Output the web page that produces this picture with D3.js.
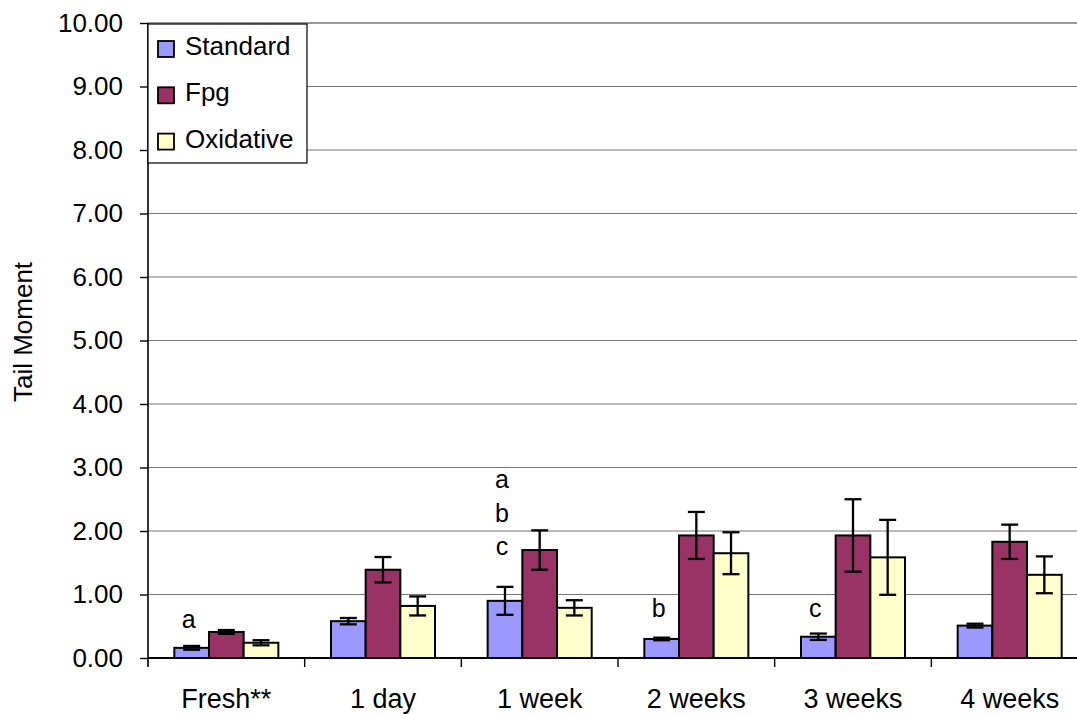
<!DOCTYPE html>
<html>
<head>
<meta charset="utf-8">
<script src="https://cdn.jsdelivr.net/npm/d3@7"></script>
<style>
  body { margin: 0; background: #fff; }
  text { font-family: "Liberation Sans", Arial, sans-serif; fill: #000; }
</style>
</head>
<body>
<div id="chart"></div>
<script>
// chart data
const categories = ["Fresh**", "1 day", "1 week", "2 weeks", "3 weeks", "4 weeks"];
const seriesNames = ["Standard", "Fpg", "Oxidative"];
const seriesColors = ["#9999FF", "#993366", "#FFFFCC"];
const standardValues = [0.16, 0.58, 0.90, 0.30, 0.335, 0.51];
const standardErrors = [0.03, 0.05, 0.22, 0.02, 0.05, 0.03];
const fpgValues = [0.41, 1.39, 1.70, 1.93, 1.93, 1.83];
const fpgErrors = [0.03, 0.20, 0.31, 0.37, 0.57, 0.27];
const oxidativeValues = [0.24, 0.82, 0.79, 1.65, 1.585, 1.31];
const oxidativeErrors = [0.04, 0.15, 0.12, 0.33, 0.59, 0.29];
const yTicks = [0, 1, 2, 3, 4, 5, 6, 7, 8, 9, 10];
// significance letters: category, height in data units
const noteLabels = ["a", "a", "b", "c", "b", "c"];
const noteCats = ["Fresh**", "1 week", "1 week", "1 week", "2 weeks", "3 weeks"];
const noteY = [0.47, 2.68, 2.14, 1.62, 0.65, 0.65];

const values = [standardValues, fpgValues, oxidativeValues];
const errors = [standardErrors, fpgErrors, oxidativeErrors];
let barData = [];
categories.forEach((c, i) => {
    seriesNames.forEach((s, j) => {
        barData.push({ cat: c, series: s, value: values[j][i], err: errors[j][i] });
    });
});

const W = 1077, H = 715;
const margin = { left: 148, right: 1088, top: 23, bottom: 658 };

let svg = d3.select("#chart")
    .append("svg")
    .attr("width", W)
    .attr("height", H);

let x0 = d3.scaleBand().domain(categories).range([margin.left, margin.right]);
let catW = x0.bandwidth();
let x1 = d3.scaleBand().domain(seriesNames)
    .range([catW * 0.168, catW * 0.832]);
let y = d3.scaleLinear().domain([0, 10]).range([margin.bottom, margin.top]);
let color = d3.scaleOrdinal().domain(seriesNames).range(seriesColors);

// gridlines
svg.append("g")
    .selectAll("line")
    .data(yTicks.filter(d => d > 0))
    .enter()
    .append("line")
    .attr("x1", margin.left).attr("x2", margin.right)
    .attr("y1", d => y(d)).attr("y2", d => y(d))
    .attr("stroke", d => d === 10 ? "#333" : "#777")
    .attr("stroke-width", 1.2);

// y axis
let yAxis = svg.append("g")
    .attr("transform", "translate(" + margin.left + ",0)")
    .call(d3.axisLeft(y).tickValues(yTicks).tickSize(8).tickPadding(17)
        .tickFormat(d3.format(".2f")));
yAxis.select(".domain").attr("stroke", "#000").attr("stroke-width", 1.6)
    .attr("d", "M0," + y(10) + "V" + (margin.bottom + 9));
yAxis.selectAll(".tick line").attr("stroke", "#000").attr("stroke-width", 1.4);
yAxis.selectAll("text")
    .style("font-family", "'Liberation Sans', Arial, sans-serif")
    .style("font-size", "26px")
    .attr("fill", "#000");

// x axis
let xAxis = svg.append("g")
    .attr("transform", "translate(0," + margin.bottom + ")");
xAxis.append("line")
    .attr("x1", margin.left).attr("x2", margin.right)
    .attr("stroke", "#000").attr("stroke-width", 1.8);
xAxis.selectAll(".cTick")
    .data(categories)
    .enter()
    .append("line")
    .attr("class", "cTick")
    .attr("x1", d => x0(d) + catW)
    .attr("x2", d => x0(d) + catW)
    .attr("y1", 0).attr("y2", 9)
    .attr("stroke", "#000").attr("stroke-width", 1.4);
xAxis.selectAll(".cLabel")
    .data(categories)
    .enter()
    .append("text")
    .attr("class", "cLabel")
    .attr("x", d => x0(d) + catW / 2)
    .attr("y", 50)
    .attr("text-anchor", "middle")
    .style("font-size", "27px")
    .text(d => d);

// y label
svg.append("text")
    .attr("transform", "translate(32,332) rotate(-90)")
    .attr("text-anchor", "middle")
    .style("font-size", "26px")
    .text("Tail Moment");

// bars
let g = svg.selectAll("mybar")
    .data(barData)
    .enter();
g.append("rect")
    .attr("x", d => x0(d.cat) + x1(d.series))
    .attr("y", d => y(d.value))
    .attr("width", x1.bandwidth())
    .attr("height", d => margin.bottom - y(d.value))
    .attr("fill", d => color(d.series))
    .attr("stroke", "#000")
    .attr("stroke-width", 2);

// error bars
const capW = 17;
let eb = svg.append("g").attr("stroke", "#000").attr("stroke-width", 2.3);
barData.forEach(d => {
    let cx = x0(d.cat) + x1(d.series) + x1.bandwidth() / 2;
    let yt = y(d.value + d.err), yb = y(d.value - d.err);
    eb.append("line").attr("x1", cx).attr("x2", cx).attr("y1", yt).attr("y2", yb);
    eb.append("line").attr("x1", cx - capW / 2).attr("x2", cx + capW / 2).attr("y1", yt).attr("y2", yt);
    eb.append("line").attr("x1", cx - capW / 2).attr("x2", cx + capW / 2).attr("y1", yb).attr("y2", yb);
});

// letters
svg.selectAll(".note")
    .data(noteLabels)
    .enter()
    .append("text")
    .attr("class", "note")
    .attr("x", (d, i) => x0(noteCats[i]) + x1("Standard") + x1.bandwidth() / 2 - 3)
    .attr("y", (d, i) => y(noteY[i]))
    .attr("text-anchor", "middle")
    .style("font-size", "25px")
    .text(d => d);

// legend
let legend = svg.append("g");
legend.append("rect")
    .attr("x", margin.left).attr("y", margin.top + 1)
    .attr("width", 159).attr("height", 139)
    .attr("fill", "#fff")
    .attr("stroke", "#000").attr("stroke-width", 1.2);
let items = legend.selectAll(".item")
    .data(seriesNames)
    .enter()
    .append("g")
    .attr("transform", (d, i) => "translate(" + (margin.left + 10) + "," + (41 + i * 46.3) + ")");
items.append("rect")
    .attr("width", 16).attr("height", 16)
    .attr("fill", d => color(d))
    .attr("stroke", "#000").attr("stroke-width", 1.8);
items.append("text")
    .attr("x", 27).attr("y", 14)
    .style("font-size", "26px")
    .text(d => d);
</script>
</body>
</html>
